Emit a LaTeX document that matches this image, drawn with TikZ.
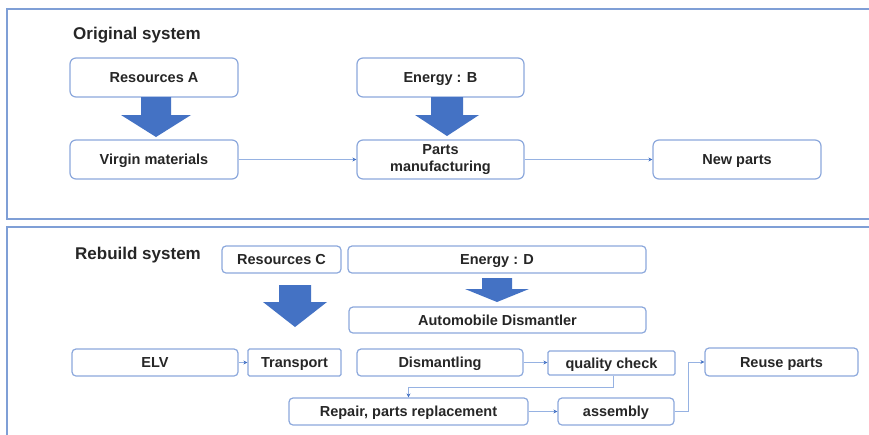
\documentclass[tikz,border=0pt]{standalone}
\usepackage{fontspec}
\setmainfont{Liberation Sans}
\usetikzlibrary{arrows.meta}
\definecolor{framec}{RGB}{127,159,214}
\definecolor{boxc}{RGB}{140,168,220}
\definecolor{bigc}{RGB}{68,114,196}
\definecolor{linec}{RGB}{150,178,226}
\definecolor{txt}{RGB}{38,38,38}
\newcommand{\bigdownarrow}[6]{%
  \fill[bigc] (#1-#5,#2) -- (#1+#5,#2) -- (#1+#5,#3) -- (#1+#6,#3) -- (#1,#4)
    -- (#1-#6,#3) -- (#1-#5,#3) -- cycle;}
\begin{document}
\begin{tikzpicture}[x=1pt,y=-1pt,
  box/.style={draw=boxc,line width=1.2pt,rounded corners=6pt,fill=white,
    text=txt,font=\fontsize{14.5}{15}\selectfont\bfseries,inner sep=0pt,align=center,
    text height=11pt,text depth=0.8pt},
  sbox/.style={box,rounded corners=4pt},
  conn/.style={draw=linec,line width=0.8pt,-{Stealth[length=4pt,width=4pt,color=bigc]}},
  title/.style={text=txt,font=\fontsize{17}{18}\selectfont\bfseries,anchor=west,inner sep=0pt}]
\useasboundingbox (0,0) rectangle (869,434);
\fill[white] (0,0) rectangle (869,434);
% frames
\draw[framec,line width=1.6pt] (875,9) -- (7,9) -- (7,219) -- (875,219);
\draw[framec,line width=1.6pt] (875,227) -- (7,227) -- (7,440);
% top section
\node[title] (t1) at (73,35.5) {Original system};
\node[box,minimum width=168pt,minimum height=39pt] (resA) at (154,77.5) {Resources A};
\node[box,minimum width=168pt,minimum height=39pt] (virgin) at (154,159.5) {Virgin materials};
\node[box,minimum width=167pt,minimum height=39pt] (enB) at (440.5,77.5) {Energy : B};
\node[box,minimum width=167pt,minimum height=39pt,text height=,text depth=] (parts) at (440.5,159.5) {Parts\\[2pt]manufacturing};
\node[box,minimum width=168pt,minimum height=39pt] (newp) at (737,159.5) {New parts};
\bigdownarrow{156}{97}{115}{137}{15}{35}
\bigdownarrow{447}{97}{115}{136}{16}{32}
\draw[conn] (virgin) -- (parts);
\draw[conn] (parts) -- (newp);
% bottom section
\node[title] (t2) at (75,255.5) {Rebuild system};
\node[sbox,minimum width=119pt,minimum height=27pt] (resC) at (281.5,259.5) {Resources C};
\node[sbox,minimum width=298pt,minimum height=27pt] (enD) at (497,259.5) {Energy : D};
\node[sbox,minimum width=297pt,minimum height=26pt] (autoD) at (497.5,320) {Automobile Dismantler};
\node[sbox,minimum width=166pt,minimum height=27pt] (elv) at (155,362.5) {ELV};
\node[sbox,rounded corners=1.5pt,minimum width=93pt,minimum height=27pt] (trans) at (294.5,362.5) {Transport};
\node[sbox,minimum width=166pt,minimum height=27pt] (dism) at (440,362.5) {Dismantling};
\node[sbox,rounded corners=1.5pt,minimum width=127pt,minimum height=24pt] (qual) at (611.5,363) {quality check};
\node[sbox,minimum width=153pt,minimum height=28pt] (reuse) at (781.5,362) {Reuse parts};
\node[sbox,minimum width=239pt,minimum height=27pt] (repair) at (408.5,411.5) {Repair, parts replacement};
\node[sbox,minimum width=116pt,minimum height=27pt] (asm) at (616,411.5) {assembly};
\bigdownarrow{295}{285}{302}{327}{16}{32}
\bigdownarrow{497}{278}{289}{302}{15}{32}
\draw[conn] (elv) -- (trans);
\draw[conn] (dism.east) -- (dism.east -| qual.west);
\coordinate (q1) at (613,387);
\draw[conn] (qual.south -| q1) -- (q1) -| (repair.north);
\draw[conn] (repair) -- (asm);
\coordinate (a1) at (688,411.5);
\draw[conn] (asm.east) -- (a1) |- (reuse.west);
\end{tikzpicture}
\end{document}
